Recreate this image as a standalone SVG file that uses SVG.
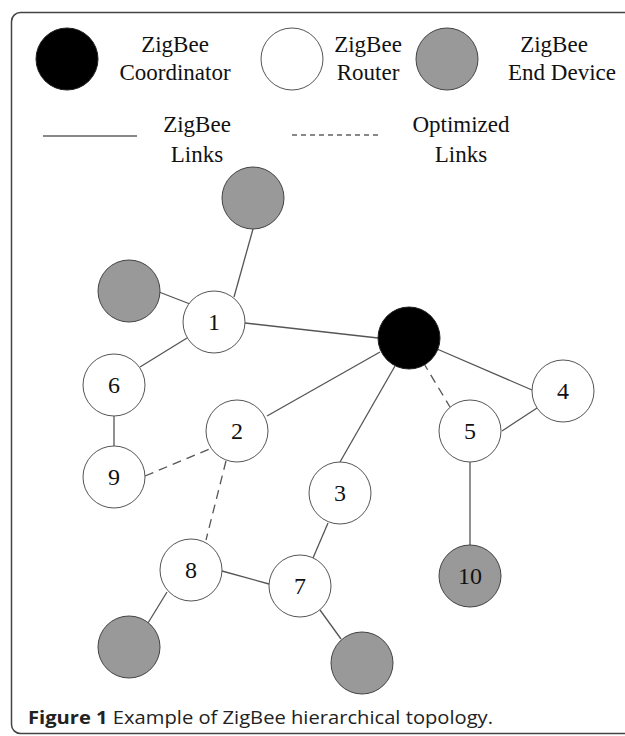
<svg xmlns="http://www.w3.org/2000/svg" width="625" height="736" viewBox="0 0 625 736">
  <style>
    .frame { fill: #ffffff; stroke: #444444; stroke-width: 1.5; }
    .coord { fill: #000000; stroke: #222222; stroke-width: 1; }
    .router { fill: #ffffff; stroke: #555555; stroke-width: 1; }
    .end { fill: #999999; stroke: #444444; stroke-width: 1; }
    .lbl { font-family: "Liberation Serif", "Times New Roman", serif; font-size: 23px; fill: #111111; text-anchor: middle; }
    .num { font-family: "Liberation Serif", "Times New Roman", serif; font-size: 24px; fill: #111111; text-anchor: middle; }
    .link { stroke: #555555; stroke-width: 1.3; fill: none; }
    .opt { stroke: #555555; stroke-width: 1.3; fill: none; stroke-dasharray: 9 6; }
    .legend-link { stroke: #888888; stroke-width: 2; fill: none; }
    .legend-opt { stroke: #888888; stroke-width: 2; fill: none; stroke-dasharray: 5 4; }
    .cap { font-family: "Open Sans", "Noto Sans", sans-serif; font-size: 18px; fill: #222222; }
  </style>

  <!-- outer frame, right edge runs off the canvas -->
  <rect class="frame" x="11.5" y="12.5" width="640" height="721" rx="9" ry="9"/>

  <!-- legend -->
  <g id="legend">
    <circle class="coord" cx="67" cy="59" r="31"/>
    <text class="lbl" x="175" y="52">ZigBee</text>
    <text class="lbl" x="175" y="80">Coordinator</text>

    <circle class="router" cx="292" cy="59" r="31"/>
    <text class="lbl" x="368" y="52">ZigBee</text>
    <text class="lbl" x="368" y="80">Router</text>

    <circle class="end" cx="447" cy="59" r="31"/>
    <text class="lbl" x="554" y="52">ZigBee</text>
    <text class="lbl" x="562" y="80">End Device</text>

    <line class="legend-link" x1="43" y1="136" x2="137" y2="136"/>
    <text class="lbl" x="197" y="132">ZigBee</text>
    <text class="lbl" x="197" y="162">Links</text>

    <line class="legend-opt" x1="292" y1="135" x2="382" y2="135"/>
    <text class="lbl" x="461" y="132">Optimized</text>
    <text class="lbl" x="461" y="162">Links</text>
  </g>

  <!-- connectors -->
  <g id="connectors">
    <line class="link" x1="253" y1="229" x2="234" y2="297"/>
    <line class="link" x1="159" y1="292" x2="190" y2="304"/>
    <line class="link" x1="245" y1="323" x2="378" y2="338"/>
    <line class="link" x1="187" y1="338" x2="140" y2="367"/>
    <line class="link" x1="380" y1="352" x2="267" y2="416"/>
    <line class="link" x1="395" y1="366" x2="340" y2="462"/>
    <line class="opt" x1="423" y1="362" x2="450" y2="407"/>
    <line class="link" x1="437" y1="349" x2="532" y2="390"/>
    <line class="link" x1="537" y1="408" x2="502" y2="431"/>
    <line class="link" x1="470" y1="462" x2="470" y2="545"/>
    <line class="link" x1="114" y1="416" x2="114" y2="446"/>
    <line class="opt" x1="145" y1="476" x2="212" y2="448"/>
    <line class="opt" x1="226" y1="461" x2="206" y2="540"/>
    <line class="link" x1="328" y1="523" x2="313" y2="558"/>
    <line class="link" x1="222" y1="571" x2="269" y2="584"/>
    <line class="link" x1="167" y1="592" x2="148" y2="623"/>
    <line class="link" x1="320" y1="610" x2="341" y2="639"/>
  </g>

  <!-- network nodes -->
  <g id="coordinator"><circle class="coord" cx="409" cy="338" r="31"/></g>
  <g id="node-1"><circle class="router" cx="214" cy="322" r="31"/><text class="num" x="214" y="330">1</text></g>
  <g id="node-2"><circle class="router" cx="237" cy="431" r="31"/><text class="num" x="237" y="439">2</text></g>
  <g id="node-3"><circle class="router" cx="340" cy="493" r="31"/><text class="num" x="340" y="501">3</text></g>
  <g id="node-4"><circle class="router" cx="563" cy="391" r="31"/><text class="num" x="563" y="399">4</text></g>
  <g id="node-5"><circle class="router" cx="470" cy="431" r="31"/><text class="num" x="470" y="439">5</text></g>
  <g id="node-6"><circle class="router" cx="114" cy="385" r="31"/><text class="num" x="114" y="393">6</text></g>
  <g id="node-7"><circle class="router" cx="300" cy="586" r="31"/><text class="num" x="300" y="594">7</text></g>
  <g id="node-8"><circle class="router" cx="191" cy="570" r="31"/><text class="num" x="191" y="578">8</text></g>
  <g id="node-9"><circle class="router" cx="114" cy="477" r="31"/><text class="num" x="114" y="485">9</text></g>
  <g id="node-10"><circle class="end" cx="470" cy="576" r="31"/><text class="num" x="470" y="584">10</text></g>
  <g id="end-top"><circle class="end" cx="253" cy="198" r="31"/></g>
  <g id="end-left"><circle class="end" cx="129" cy="291" r="31"/></g>
  <g id="end-bottom-left"><circle class="end" cx="129" cy="647" r="31"/></g>
  <g id="end-bottom-right"><circle class="end" cx="362" cy="663" r="31"/></g>

  <!-- caption -->
  <text class="cap" x="28" y="724" textLength="465" lengthAdjust="spacingAndGlyphs"><tspan font-weight="bold">Figure 1</tspan> Example of ZigBee hierarchical topology.</text>
</svg>
